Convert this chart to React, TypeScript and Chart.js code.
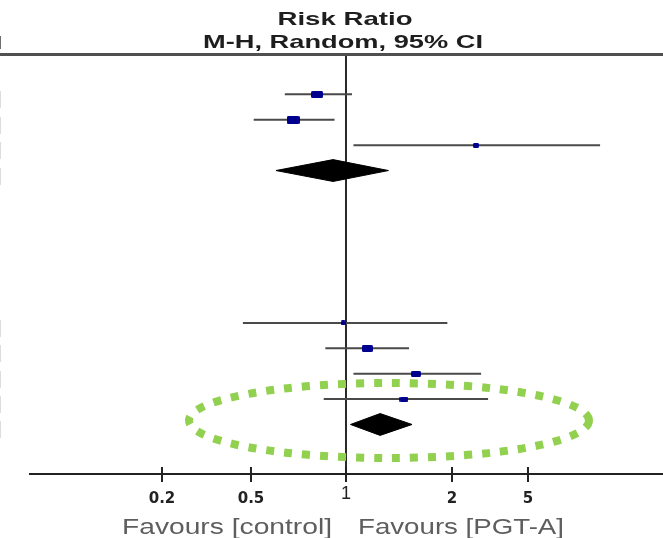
import React, { useEffect, useRef } from "react";
import { Chart, registerables, LogarithmicScale } from "chart.js";

// Study rows (row index counted down from the header rule)
const STUDY_ROWS = [1, 2, 3, 10, 11, 12, 13];
const STUDY_RR = [0.81, 0.68, 2.67, 0.98, 1.15, 1.58, 1.46];
const STUDY_LOW = [0.64, 0.51, 1.05, 0.46, 0.86, 1.05, 0.85];
const STUDY_HIGH = [1.04, 0.92, 7.24, 1.94, 1.51, 2.84, 3.09];
const STUDY_WEIGHT = [41, 47, 12, 7, 38, 30, 25];

// Subgroup totals (random effects)
const POOLED_ROWS = [4, 14];
const POOLED_RR = [0.91, 1.25];
const POOLED_LOW = [0.6, 1.03];
const POOLED_HIGH = [1.32, 1.54];

// Axis
const TICK_VALUES = [0.2, 0.5, 1, 2, 5];
const AXIS_MIN = 0.1;
const AXIS_MAX = 10;
const ROW_MIN = -0.55;
const ROW_MAX = 15.95;

// Knots of the ratio axis: value and relative position along the axis
const KNOT_VALUES = [0.1, 0.2, 0.5, 1, 2, 5, 10];
const KNOT_POS = [0, 0.2085, 0.3491, 0.4992, 0.6667, 0.7867, 1];

const LEFT_LABEL = "Favours [control]";
const RIGHT_LABEL = "Favours [PGT-A]";
const TITLE_1 = "Risk Ratio";
const TITLE_2 = "M-H, Random, 95% CI";

const ALL_ROWS = [1, 2, 3, 4, 10, 11, 12, 13, 14];

// Logarithmic scale whose decades are placed piecewise between knots
class KnotLogScale extends LogarithmicScale {
  static id = "knotLog";
  static defaults = LogarithmicScale.defaults;

  valueToDecimal(value: number) {
    const lv = Math.log10(value);
    const lk = KNOT_VALUES.map((v) => Math.log10(v));
    let i = 0;
    while (i < lk.length - 2 && lv > lk[i + 1]) i++;
    const t = (lv - lk[i]) / (lk[i + 1] - lk[i]);
    return KNOT_POS[i] + t * (KNOT_POS[i + 1] - KNOT_POS[i]);
  }

  getPixelForValue(value: any) {
    if (value === undefined || value === null || isNaN(value) || value <= 0) return NaN;
    return this.getPixelForDecimal(this.valueToDecimal(value));
  }

  getValueForPixel(pixel: number) {
    const d = this.getDecimalForPixel(pixel);
    let i = 0;
    while (i < KNOT_POS.length - 2 && d > KNOT_POS[i + 1]) i++;
    const t = (d - KNOT_POS[i]) / (KNOT_POS[i + 1] - KNOT_POS[i]);
    const a = Math.log10(KNOT_VALUES[i]);
    const b = Math.log10(KNOT_VALUES[i + 1]);
    return Math.pow(10, a + t * (b - a));
  }
}

Chart.register(...registerables, KnotLogScale as any);

const DIAMOND_HALF = 0.43; // in rows
const BOX_COLOR = "#00008f";
const CI_COLOR = "#4a4a4a";
const AXIS_COLOR = "#222";

function makeBox(weight: number): HTMLCanvasElement {
  const w = Math.max(5, Math.round(1.85 * Math.sqrt(weight)));
  const h = Math.max(5, Math.round(0.6 * w));
  const c = document.createElement("canvas");
  c.width = w;
  c.height = h;
  const g = c.getContext("2d")!;
  g.fillStyle = BOX_COLOR;
  const r = 1.5;
  g.beginPath();
  g.moveTo(r, 0);
  g.lineTo(w - r, 0);
  g.quadraticCurveTo(w, 0, w, r);
  g.lineTo(w, h - r);
  g.quadraticCurveTo(w, h, w - r, h);
  g.lineTo(r, h);
  g.quadraticCurveTo(0, h, 0, h - r);
  g.lineTo(0, r);
  g.quadraticCurveTo(0, 0, r, 0);
  g.fill();
  return c;
}

function drawFitted(
  ctx: CanvasRenderingContext2D,
  text: string,
  cx: number,
  baseline: number,
  width: number,
  font: string,
  color: string
) {
  ctx.save();
  ctx.font = font;
  ctx.fillStyle = color;
  ctx.textAlign = "left";
  ctx.textBaseline = "alphabetic";
  const m = ctx.measureText(text).width;
  ctx.translate(cx - width / 2, baseline);
  ctx.scale(width / m, 1);
  ctx.fillText(text, 0, 0);
  ctx.restore();
}

const decorPlugin = {
  id: "forestDecor",
  afterDatasetsDraw(chart: any) {
    const ctx: CanvasRenderingContext2D = chart.ctx;
    // highlight ring around the second subgroup total
    ctx.save();
    ctx.beginPath();
    ctx.ellipse(389, 420.5, 200, 37.5, 0, 0, Math.PI * 2);
    ctx.setLineDash([8, 10]);
    ctx.lineWidth = 8;
    ctx.strokeStyle = "#92d050";
    ctx.stroke();
    ctx.restore();
  },
  afterDraw(chart: any) {
    const ctx: CanvasRenderingContext2D = chart.ctx;
    const x = chart.scales.x;
    const y = chart.scales.y;
    const area = chart.chartArea;

    // header rule
    ctx.save();
    ctx.strokeStyle = "#505050";
    ctx.lineWidth = 3;
    ctx.beginPath();
    ctx.moveTo(0, area.top - 0.5);
    ctx.lineTo(chart.width, area.top - 0.5);
    ctx.stroke();

    // tick marks cross the axis line
    ctx.strokeStyle = AXIS_COLOR;
    ctx.lineWidth = 2;
    ctx.beginPath();
    x.ticks.forEach((t: any) => {
      const px = x.getPixelForValue(t.value);
      ctx.moveTo(px, area.bottom - 7);
      ctx.lineTo(px, area.bottom);
    });
    ctx.stroke();
    ctx.restore();

    drawFitted(ctx, TITLE_1, 345, 25, 135, 'bold 19px "Liberation Sans"', "#1e1e1e");
    drawFitted(ctx, TITLE_2, 343, 48, 280, 'bold 19px "Liberation Sans"', "#1e1e1e");

    drawFitted(ctx, LEFT_LABEL, 227, 534, 210, '22px "Liberation Sans"', "#5e5e5e");
    drawFitted(ctx, RIGHT_LABEL, 461, 534, 206, '22px "Liberation Sans"', "#5e5e5e");

    // clipped ends of the text columns at the left edge
    ctx.save();
    ctx.fillStyle = "#444";
    ctx.textAlign = "right";
    ctx.textBaseline = "alphabetic";
    ctx.font = 'bold 19px "Liberation Sans"';
    ctx.fillText("I", 2, 49);
    ctx.font = '19px "Liberation Sans"';
    ALL_ROWS.forEach((r) => {
      ctx.fillText("]", 1.5, y.getPixelForValue(r) + 10);
    });
    ctx.restore();
  },
};

export default function App() {
  const ref = useRef<HTMLCanvasElement>(null);

  useEffect(() => {
    if (!ref.current) return;
    const boxes = STUDY_WEIGHT.map(makeBox);

    const ciSets = STUDY_ROWS.map((row, i) => ({
      type: "line" as const,
      data: [
        { x: STUDY_LOW[i], y: row },
        { x: STUDY_HIGH[i], y: row },
      ],
      borderColor: CI_COLOR,
      borderWidth: 2,
      pointRadius: 0,
      fill: false,
    }));

    const diamondSets = POOLED_ROWS.map((row, i) => ({
      type: "line" as const,
      data: [
        { x: POOLED_LOW[i], y: row },
        { x: POOLED_RR[i], y: row - DIAMOND_HALF },
        { x: POOLED_HIGH[i], y: row },
        { x: POOLED_RR[i], y: row + DIAMOND_HALF },
        { x: POOLED_LOW[i], y: row },
      ],
      borderColor: "#000",
      backgroundColor: "#000",
      borderWidth: 1,
      pointRadius: 0,
      fill: "shape",
    }));

    const chart = new Chart(ref.current, {
      type: "line",
      data: {
        datasets: [
          {
            type: "scatter",
            data: STUDY_ROWS.map((row, i) => ({ x: STUDY_RR[i], y: row })),
            pointStyle: (c: any) => boxes[c.dataIndex] as any,
            pointRadius: 3,
            showLine: false,
          } as any,
          ...ciSets,
          ...diamondSets,
          {
            type: "line",
            data: [
              { x: 1, y: ROW_MIN },
              { x: 1, y: ROW_MAX },
            ],
            borderColor: "#2a2a2a",
            borderWidth: 2,
            pointRadius: 0,
            fill: false,
          },
        ] as any,
      },
      options: {
        animation: false,
        responsive: false,
        maintainAspectRatio: false,
        events: [],
        layout: { autoPadding: false, padding: { top: 55, left: 30, right: 0, bottom: 0 } },
        plugins: {
          legend: { display: false },
          tooltip: { enabled: false },
          title: { display: false },
        },
        scales: {
          x: {
            type: "knotLog" as any,
            min: AXIS_MIN,
            max: AXIS_MAX,
            afterBuildTicks: (s: any) => {
              s.ticks = TICK_VALUES.map((v) => ({ value: v }));
            },
            afterFit: (s: any) => {
              s.height = 64;
              s.paddingLeft = 0;
              s.paddingRight = 0;
            },
            grid: {
              drawOnChartArea: false,
              drawTicks: true,
              tickLength: 8,
              color: AXIS_COLOR,
              lineWidth: 2,
            },
            border: { display: true, color: AXIS_COLOR, width: 2 },
            ticks: {
              autoSkip: false,
              maxRotation: 0,
              padding: 8,
              color: "#222",
              font: (c: any) =>
                c.tick && c.tick.value === 1
                  ? { family: "Liberation Sans", weight: "normal", size: 18, lineHeight: 0.5 }
                  : { family: "DejaVu Sans", weight: "bold", size: 15 },
              callback: (v: any) => String(v),
            },
          } as any,
          y: {
            type: "linear",
            min: ROW_MIN,
            max: ROW_MAX,
            reverse: true,
            display: false,
          },
        },
      },
      plugins: [decorPlugin],
    });

    return () => chart.destroy();
  }, []);

  return (
    <div style={{ position: "absolute", left: 0, top: 0, width: 663, height: 538, background: "#fff" }}>
      <canvas ref={ref} width={663} height={538} style={{ display: "block" }} />
    </div>
  );
}
